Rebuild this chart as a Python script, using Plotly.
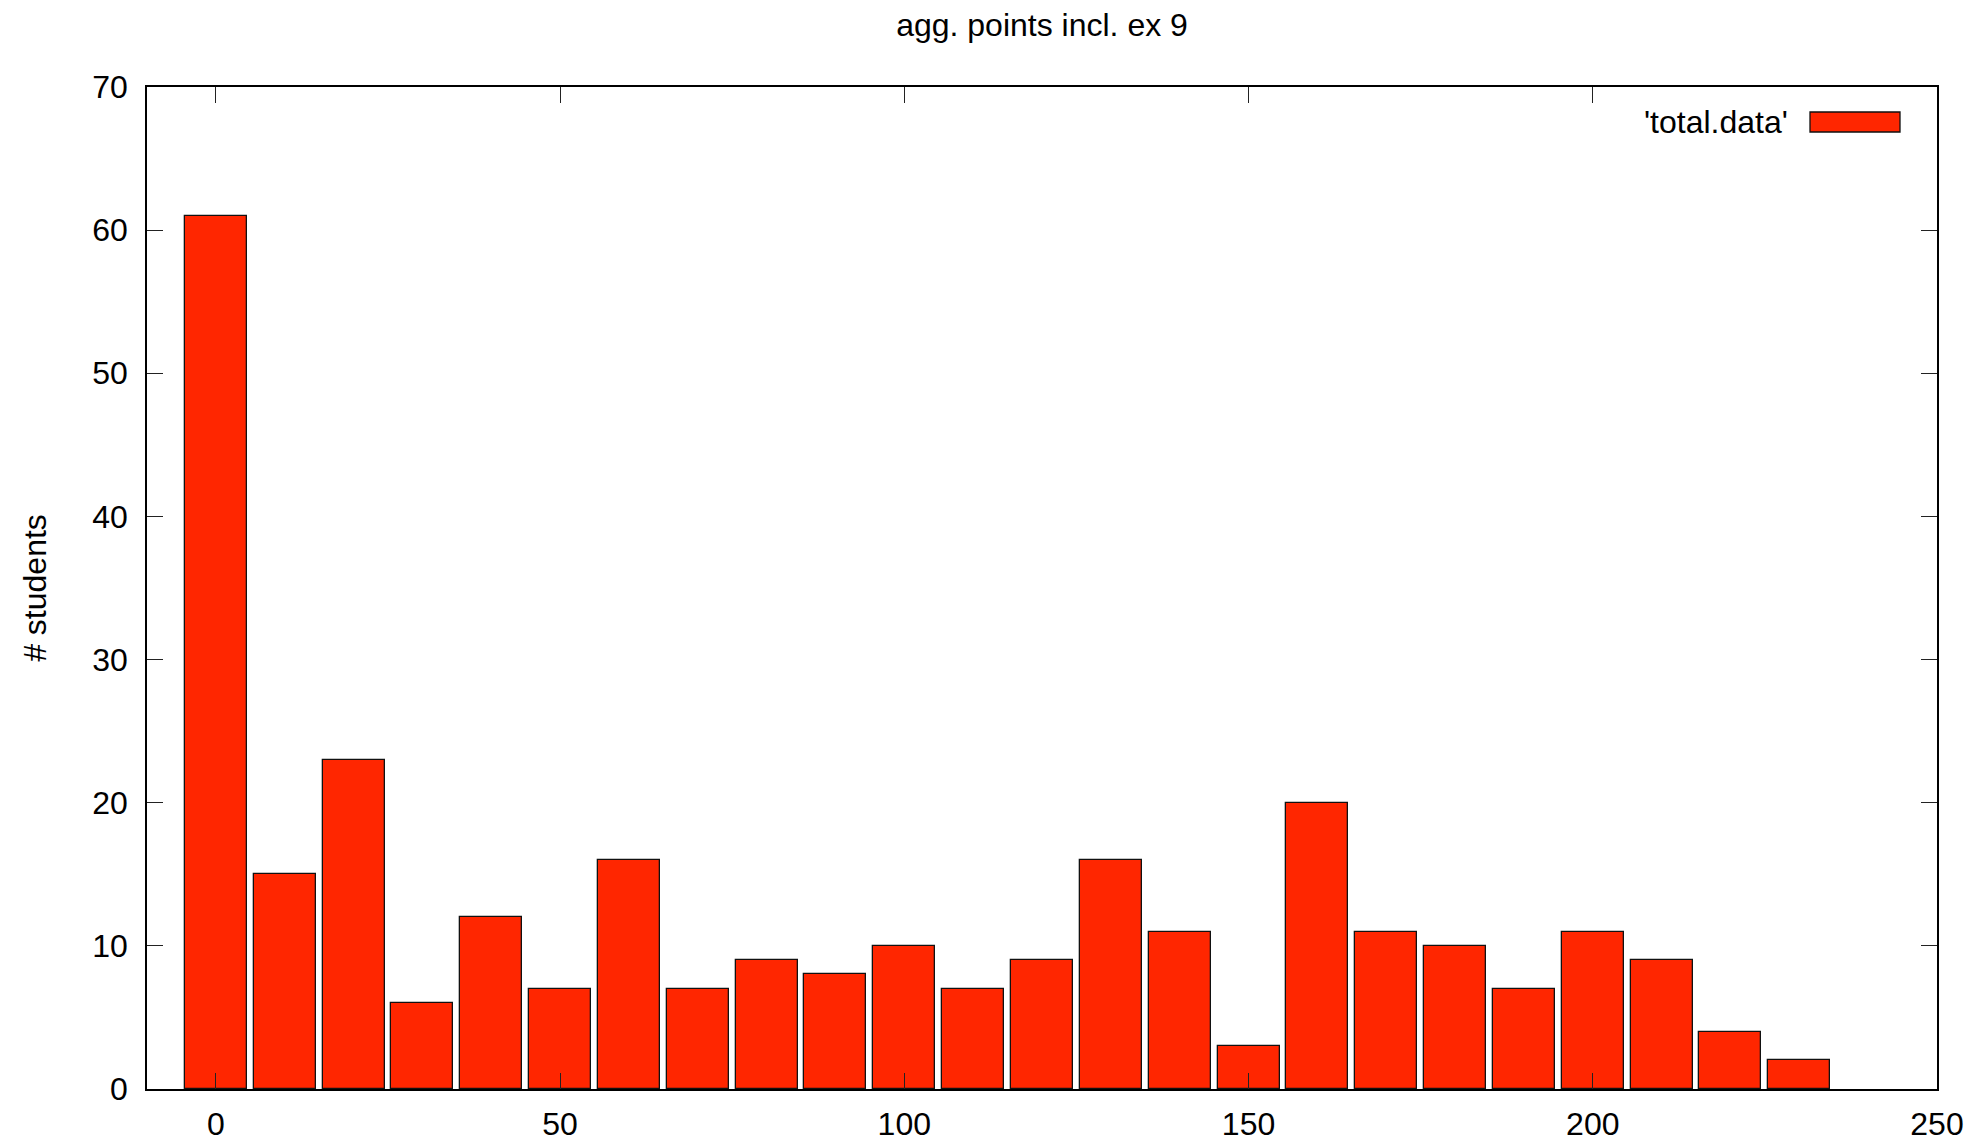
import plotly.graph_objects as go

bins = [0, 10, 20, 30, 40, 50, 60, 70, 80, 90, 100, 110, 120, 130, 140, 150, 160, 170, 180, 190, 200, 210, 220, 230]
students = [61, 15, 23, 6, 12, 7, 16, 7, 9, 8, 10, 7, 9, 16, 11, 3, 20, 11, 10, 7, 11, 9, 4, 2]
x_ticks = [0, 50, 100, 150, 200, 250]
y_ticks = [0, 10, 20, 30, 40, 50, 60, 70]

RED = "#FF2600"
FONT = "Liberation Sans, Arial, Helvetica, sans-serif"
FS = 32

W, H = 1981, 1143
L, R, T, B = 147, 44, 87, 54
PW, PH = W - L - R, H - T - B

fig = go.Figure()
fig.add_trace(go.Bar(
    x=bins, y=students, width=9,
    marker=dict(color=RED, line=dict(color="#111111", width=1.3)),
    name="'total.data'", showlegend=False,
))

fig.update_layout(
    width=W, height=H,
    margin=dict(l=L, r=R, t=T, b=B, autoexpand=False),
    paper_bgcolor="white", plot_bgcolor="white",
    font=dict(family=FONT, size=FS, color="black"),
    title=dict(text="agg. points incl. ex 9", xref="paper", x=0.5, xanchor="center",
               yref="container", y=1 - 25 / H, yanchor="middle", font=dict(size=FS)),
    xaxis=dict(range=[-10, 250], tickvals=x_ticks, ticks="inside", ticklen=16,
               tickwidth=1.3, tickcolor="#222", showline=True, linecolor="black",
               linewidth=1.5, mirror="allticks", showgrid=False, zeroline=False,
               ticklabelstandoff=6, automargin=False),
    yaxis=dict(range=[0, 70], tickvals=y_ticks, ticks="inside", ticklen=16,
               tickwidth=1.3, tickcolor="#222", showline=True, linecolor="black",
               linewidth=1.5, mirror="allticks", showgrid=False, zeroline=False,
               ticklabelstandoff=11, automargin=False,
               title=dict(text="# students", standoff=36, font=dict(size=FS))),
    bargap=0,
)

# gnuplot-style key in the top-right corner
fig.add_annotation(text="'total.data'", xref="paper", yref="paper",
                   x=(1790 - 147) / PW, y=1 - (122 - 87) / PH,
                   xanchor="right", yanchor="middle", showarrow=False,
                   font=dict(size=FS))
fig.add_shape(type="rect", xref="paper", yref="paper",
              x0=(1810 - 147) / PW, x1=(1900 - 147) / PW,
              y0=1 - (132 - 87) / PH, y1=1 - (112 - 87) / PH,
              fillcolor=RED, line=dict(color="#111111", width=1.3))

fig.write_html("out.html",
               config={"displayModeBar": False},
               post_script="document.body.style.margin='0';document.body.style.overflow='hidden';")
